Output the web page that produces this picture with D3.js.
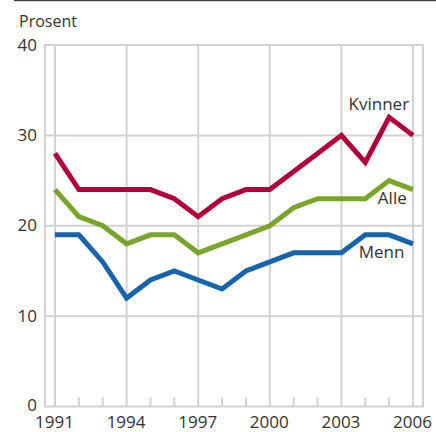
<!DOCTYPE html>
<html>
<head>
<meta charset="utf-8">
<script src="https://cdn.jsdelivr.net/npm/d3@7"></script>
<style>
  body { margin: 0; background: #fff; }
  svg { display: block; font-family: "Open Sans", "DejaVu Sans", sans-serif; }
</style>
</head>
<body>
<div id="chart"></div>
<script>
// Data
const years = [1991, 1992, 1993, 1994, 1995, 1996, 1997, 1998, 1999, 2000, 2001, 2002, 2003, 2004, 2005, 2006];
const kvinner = [28, 24, 24, 24, 24, 23, 21, 23, 24, 24, 26, 28, 30, 27, 32, 30];
const alle = [24, 21, 20, 18, 19, 19, 17, 18, 19, 20, 22, 23, 23, 23, 25, 24];
const menn = [19, 19, 16, 12, 14, 15, 14, 13, 15, 16, 17, 17, 17, 19, 19, 18];
const xTicks = [1991, 1994, 1997, 2000, 2003, 2006];
const yTicks = [0, 10, 20, 30, 40];

const series = [
  { name: "Kvinner", values: kvinner, color: "#b2003a", labelYear: 2005.0, labelValue: 32.8 },
  { name: "Alle", values: alle, color: "#78a52a", labelYear: 2004.9, labelValue: 22.4 },
  { name: "Menn", values: menn, color: "#1864ac", labelYear: 2004.8, labelValue: 16.4 },
];

// Core chart
const width = 436;
const height = 432;
const margin = { top: 45, bottom: 25, left: 45, right: 13 };

const svg = d3.select("#chart").append("svg")
  .attr("width", width)
  .attr("height", height);

const xScale = d3.scaleLinear()
  .domain([1991, 2006])
  .range([55, 413]);

const yScale = d3.scaleLinear()
  .domain([0, 40])
  .range([height - margin.bottom - 0.5, margin.top]);

const grid = "#d2d2d2";

// top rule
svg.append("line")
  .attr("x1", 14).attr("x2", width)
  .attr("y1", 0.5).attr("y2", 0.5)
  .attr("stroke", "#444").attr("stroke-width", 1.5);

// horizontal gridlines
svg.append("g")
  .selectAll("line")
  .data(yTicks)
  .join("line")
  .attr("x1", margin.left).attr("x2", width - margin.right)
  .attr("y1", (d) => yScale(d)).attr("y2", (d) => yScale(d))
  .attr("stroke", grid).attr("stroke-width", 2);

// vertical gridlines
svg.append("g")
  .selectAll("line")
  .data(xTicks)
  .join("line")
  .attr("x1", (d) => xScale(d)).attr("x2", (d) => xScale(d))
  .attr("y1", yScale(0)).attr("y2", yScale(40))
  .attr("stroke", grid).attr("stroke-width", 2);

// frame sides
[margin.left, width - margin.right].forEach((x) => {
  svg.append("line")
    .attr("x1", x).attr("x2", x)
    .attr("y1", yScale(0) + 1).attr("y2", yScale(40) - 1)
    .attr("stroke", grid).attr("stroke-width", 2);
});

// minor year ticks
svg.append("g")
  .selectAll("line")
  .data(years.filter((y) => !xTicks.includes(y)))
  .join("line")
  .attr("x1", (d) => xScale(d)).attr("x2", (d) => xScale(d))
  .attr("y1", yScale(0)).attr("y2", yScale(0) - 9)
  .attr("stroke", grid).attr("stroke-width", 2);

// Axis labels
svg.append("g")
  .selectAll("text")
  .data(yTicks)
  .join("text")
  .attr("x", 37)
  .attr("y", (d) => yScale(d) + (d === 0 ? 4.5 : 5.5))
  .attr("text-anchor", "end")
  .attr("fill", "#333")
  .attr("font-size", 17)
  .text((d) => d);

svg.append("g")
  .selectAll("text")
  .data(xTicks)
  .join("text")
  .attr("x", (d) => xScale(d) - 0.5)
  .attr("y", yScale(0) + 21)
  .attr("text-anchor", "middle")
  .attr("fill", "#333")
  .attr("font-size", 17)
  .text((d) => d);

svg.append("text")
  .attr("x", 19)
  .attr("y", 27)
  .attr("fill", "#333")
  .attr("font-size", 16)
  .text("Prosent");

// Lines
const line = d3.line()
  .x((d, i) => xScale(years[i]))
  .y((d) => yScale(d));

series.forEach((s) => {
  svg.append("path")
    .datum(s.values)
    .attr("fill", "none")
    .attr("stroke", s.color)
    .attr("stroke-width", 5)
    .attr("stroke-linejoin", "miter")
    .attr("d", line);

  svg.append("text")
    .attr("x", xScale(s.labelYear) + 20)
    .attr("y", yScale(s.labelValue))
    .attr("text-anchor", "end")
    .attr("fill", "#333")
    .attr("font-size", 17)
    .text(s.name);
});
</script>
</body>
</html>
